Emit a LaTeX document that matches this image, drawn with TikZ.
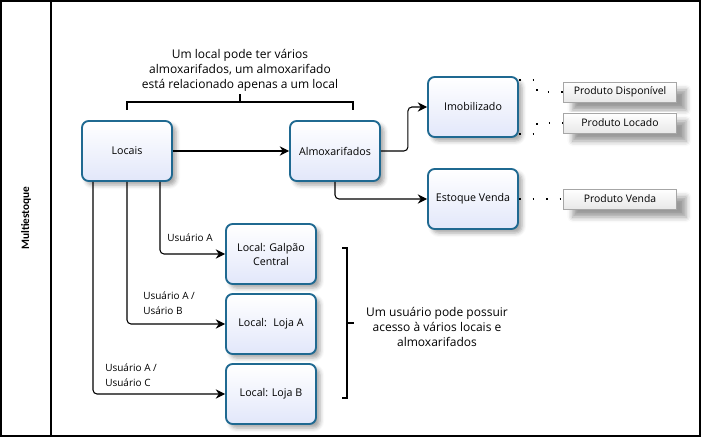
\documentclass[tikz,border=0pt]{standalone}
\usepackage{fontspec}
\setmainfont{Open Sans}
\newfontfamily\lanefont{Carlito}
\usepackage{tikz}
\usetikzlibrary{arrows.meta,positioning,calc,shadows.blur}
\definecolor{boxline}{RGB}{31,105,145}
\definecolor{boxtint}{RGB}{226,231,250}

\begin{document}
\begin{tikzpicture}[
    x=0.75pt, y=-0.75pt,
    entity/.style={rectangle, rounded corners=5pt, draw=boxline, line width=1.4pt, minimum width=67.5pt, minimum height=45pt, top color=white, bottom color=boxtint, align=center, font=\fontsize{8}{10.5}\selectfont, blur shadow={shadow xshift=3pt, shadow yshift=-3pt, shadow blur radius=3pt, shadow opacity=35}},
    product/.style={rectangle, draw=gray!70, minimum width=85pt, minimum height=15pt, top color=white, bottom color=gray!18, font=\fontsize{7.8}{9}\selectfont, blur shadow={shadow xshift=7pt, shadow yshift=-6pt, shadow blur radius=4pt, shadow opacity=40}},
    arrow/.style={-{Stealth[length=7pt,width=7pt]}, line width=0.8pt, rounded corners=3pt},
    dotline/.style={line width=1.2pt, dash pattern=on 1.2pt off 9pt},
    note/.style={align=center, inner sep=0pt, font=\fontsize{9}{11.25}\selectfont},
    user/.style={align=left, anchor=west, inner sep=0pt, font=\fontsize{7.5}{11.25}\selectfont}
]
\useasboundingbox (0,0) rectangle (702,438);

% Lane
\draw[line width=1pt] (1,1) rectangle (700,436);
\draw[line width=1pt] (51,1) -- (51,436);
\node[rotate=90, font=\lanefont\bfseries\fontsize{8.5}{10}\selectfont] (lane) at (26,218) {Multiestoque};

% Entities
\node[entity] (locais) at (127,151) {Locais};
\node[entity] (almox) at (335,151) {Almoxarifados};
\node[entity] (imob) at (473,107) {Imobilizado};
\node[entity] (estoque) at (473,199) {Estoque Venda};
\node[entity] (galpao) at (271,254) {Local: Galpão\\Central};
\node[entity] (lojaA) at (271,324) {Local:~ Loja A};
\node[entity] (lojaB) at (271,394) {Local: Loja B};

% Products
\node[product] (disp) at (620,92) {Produto Disponível};
\node[product] (locado) at (620,123) {Produto Locado};
\node[product] (venda) at (620,199) {Produto Venda};

% Connectors
\draw[arrow] (locais) -- (almox);
\draw[arrow] (almox.east) -- ++(27,0) |- (imob.west);
\draw[arrow] (almox.south) |- (estoque.west);
\draw[arrow] ([xshift=24.75pt]locais.south) |- (galpao.west);
\draw[arrow] (locais.south) |- (lojaA.west);
\draw[arrow] ([xshift=-25.5pt]locais.south) |- (lojaB.west);

\draw[dotline] ([yshift=-3pt]imob.north east) -- ++(18,0) |- (disp.west);
\draw[dotline] ([yshift=3pt]imob.south east) -- ++(18,0) |- (locado.west);
\draw[dotline] (estoque) -- (venda);

% Labels
\node[user] (labgalpao) at (167,238) {Usuário A};
\node[user] (lablojaA) at (143,303) {Usuário A /\\Usário B};
\node[user] (lablojaB) at (105,375) {Usuário A /\\Usuário C};

% Notes
\draw[line width=0.8pt] (127,110) -- (127,102) -- (353,102) -- (353,110);
\draw[line width=0.8pt] (240,102) -- (240,94);
\node[note] (notelocal) at (240,70) {Um local pode ter vários\\almoxarifados, um almoxarifado\\está relacionado apenas a um local};

\draw[line width=0.8pt] (342,248) -- (347,248) -- (347,398) -- (342,398);
\draw[line width=0.8pt] (347,323) -- (354,323);
\node[note] (noteuser) at (437,327) {Um usuário pode possuir\\acesso à vários locais e\\almoxarifados};

\end{tikzpicture}
\end{document}
